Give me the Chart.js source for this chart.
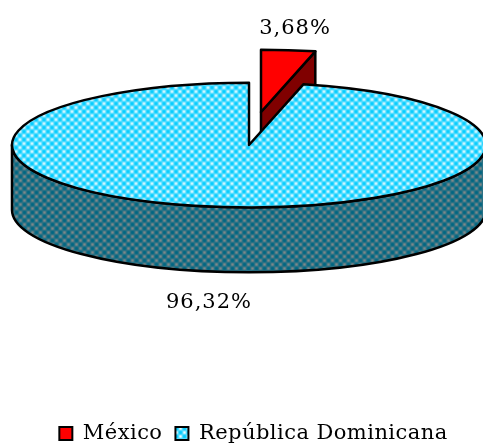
<!DOCTYPE html>
<html>
<head>
<meta charset="utf-8">
<style>
  html, body { margin: 0; padding: 0; background: #fff; overflow: hidden; }
  canvas { display: block; }
</style>
<script src="https://cdn.jsdelivr.net/npm/chart.js@4"></script>
</head>
<body>
<canvas id="grafico" width="483" height="445"></canvas>
<script>
// --- DATOS ---
const paises = ['México', 'República Dominicana'];
const porcentajes = [3.68, 96.32];

// --- GEOMETRIA DEL PASTEL 3D ---
const centroX = 249, centroY = 145;
const radio = 237;
const aplastado = 0.263;   // alto / ancho de la elipse
const grosor = 65;
const separacionX = [12, 0];  // explosion de cada porcion
const separacionY = [-33, 0];
const posEtiquetas = [[295, 29], [209, 303]];

// trama de 8x8: damero diagonal suave entre el color base y el claro
function trama(base, claro, escalaY) {
    const c = document.createElement('canvas');
    c.width = c.height = 8;
    const g = c.getContext('2d');
    for (let y = 0; y < 8; y++) {
        for (let x = 0; x < 8; x++) {
            const w = Math.pow(0.5 + 0.5 * Math.cos(Math.PI * x / 4) * Math.cos(Math.PI * y / 4), 1.6);
            const mezcla = base.map((b, k) => Math.round(b + (claro[k] - b) * w));
            g.fillStyle = `rgb(${mezcla.join(',')})`;
            g.fillRect(x, y, 1, 1);
        }
    }
    const p = g.createPattern(c, 'repeat');
    if (escalaY) p.setTransform(new DOMMatrix().scale(1, 1 / escalaY));
    return p;
}

const aguaTapa = (e) => trama([0, 204, 255], [240, 253, 255], e);
const aguaLado = () => trama([0, 102, 130], [128, 136, 136]);

// el sector se traza aplastado y se pinta sin aplastar, asi el borde no se deforma
function rutaSector(ctx, a, dx, dy) {
    ctx.save();
    ctx.translate(centroX + dx, centroY + dy);
    ctx.scale(1, aplastado);
    ctx.beginPath();
    ctx.moveTo(0, 0);
    ctx.arc(0, 0, a.outerRadius, a.startAngle, a.endAngle);
    ctx.closePath();
    ctx.restore();
}

function ruta3d(ctx, a, dx, dy, desde, hasta) {
    ctx.save();
    ctx.translate(centroX + dx, centroY + dy);
    ctx.scale(1, aplastado);
    ctx.beginPath();
    ctx.arc(0, 0, a.outerRadius, desde, hasta);
    ctx.arc(0, grosor / aplastado, a.outerRadius, hasta, desde, true);
    ctx.closePath();
    ctx.restore();
}

const pastel3d = {
    id: 'pastel3d',
    // la leyenda del original va un poco mas abierta
    beforeLayout(chart) {
        chart.ctx.letterSpacing = '0.45px';
    },
    beforeDatasetDraw(chart, args) {
        const ctx = chart.ctx;
        const arcos = args.meta.data;
        ctx.save();
        ctx.lineWidth = 2.5;
        ctx.strokeStyle = '#000';
        ctx.lineJoin = 'round';
        arcos.forEach((a, i) => {
            const dx = separacionX[i], dy = separacionY[i];

            if (i === 0) {
                // cara de corte de la porcion separada
                const rx = Math.cos(a.endAngle) * a.outerRadius;
                const ry = Math.sin(a.endAngle) * a.outerRadius * aplastado;
                const x0 = centroX + dx, y0 = centroY + dy;
                ctx.beginPath();
                ctx.moveTo(x0, y0);
                ctx.lineTo(x0 + rx, y0 + ry);
                ctx.lineTo(x0 + rx, y0 + ry + grosor);
                ctx.lineTo(x0, y0 + grosor);
                ctx.closePath();
                ctx.fillStyle = '#800000';
                ctx.fill();
                ctx.stroke();
            } else {
                // pared exterior visible (mitad de abajo)
                ruta3d(ctx, a, dx, dy, 0, Math.PI);
                ctx.fillStyle = aguaLado();
                ctx.fill();
                ctx.stroke();
            }

            // tapa: la dibuja el propio elemento arc de Chart.js
            ctx.save();
            ctx.translate(centroX + dx, centroY + dy);
            ctx.scale(1, aplastado);
            ctx.translate(-a.x, -a.y);
            a.draw(ctx);
            ctx.restore();

            rutaSector(ctx, a, dx, dy);
            ctx.stroke();
        });
        ctx.restore();
        return false;
    },
    afterDatasetsDraw(chart) {
        const ctx = chart.ctx;
        ctx.save();
        ctx.font = '21px "DejaVu Serif"';
        ctx.letterSpacing = '1px';
        ctx.fillStyle = '#000';
        ctx.textAlign = 'center';
        ctx.textBaseline = 'middle';
        porcentajes.forEach((v, i) => {
            ctx.fillText(v.toFixed(2).replace('.', ',') + '%', posEtiquetas[i][0], posEtiquetas[i][1]);
        });
        ctx.restore();
    }
};

new Chart(document.getElementById('grafico'), {
    type: 'pie',
    data: {
        labels: paises,
        datasets: [{
            data: porcentajes,
            backgroundColor: ['#ff0000', aguaTapa(aplastado)],
            borderWidth: 0
        }]
    },
    options: {
        responsive: false,
        animation: false,
        radius: radio,
        layout: { padding: { bottom: -9, left: 24 } },
        plugins: {
            tooltip: { enabled: false },
            legend: {
                position: 'bottom',
                labels: {
                    boxWidth: 13,
                    boxHeight: 13,
                    padding: 13,
                    color: '#000',
                    font: { family: '"DejaVu Serif"', size: 21 },
                    generateLabels() {
                        const rellenos = ['#ff0000', aguaTapa()];
                        return paises.map((p, i) => ({
                            text: p,
                            fillStyle: rellenos[i],
                            strokeStyle: '#000',
                            lineWidth: 2,
                            index: i
                        }));
                    }
                }
            }
        }
    },
    plugins: [pastel3d]
});
</script>
</body>
</html>
